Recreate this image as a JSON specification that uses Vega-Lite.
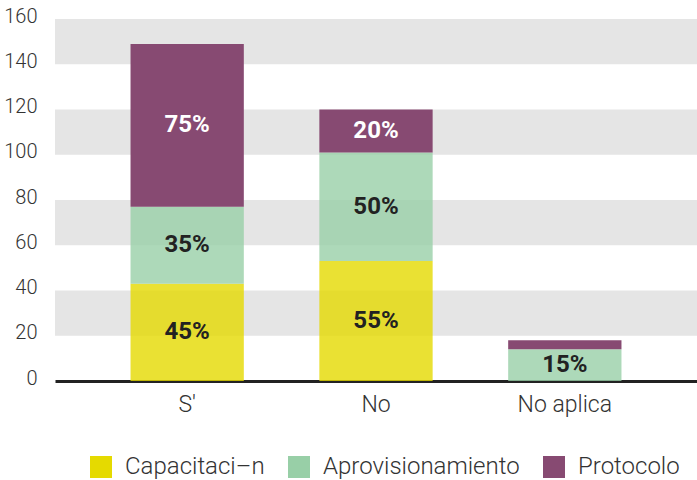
{
  "$schema": "https://vega.github.io/schema/vega-lite/v6.json",
  "width": 642,
  "height": 362,
  "autosize": {"type": "none"},
  "padding": {"left": 55, "top": 19, "right": 0, "bottom": 99},
  "config": {
    "view": {"stroke": null},
    "font": "Roboto, sans-serif"
  },
  "datasets": {
    "bars": [
      {"cat": "S'", "serie": "Capacitaci–n", "ord": 1, "value": 43, "pct": "45%"},
      {"cat": "S'", "serie": "Aprovisionamiento", "ord": 2, "value": 34, "pct": "35%"},
      {"cat": "S'", "serie": "Protocolo", "ord": 3, "value": 72, "pct": "75%"},
      {"cat": "No", "serie": "Capacitaci–n", "ord": 1, "value": 53, "pct": "55%"},
      {"cat": "No", "serie": "Aprovisionamiento", "ord": 2, "value": 48, "pct": "50%"},
      {"cat": "No", "serie": "Protocolo", "ord": 3, "value": 19, "pct": "20%"},
      {"cat": "No aplica", "serie": "Capacitaci–n", "ord": 1, "value": 0, "pct": ""},
      {"cat": "No aplica", "serie": "Aprovisionamiento", "ord": 2, "value": 14, "pct": "15%"},
      {"cat": "No aplica", "serie": "Protocolo", "ord": 3, "value": 4, "pct": ""}
    ],
    "bands": [
      {"lo": 20, "hi": 40},
      {"lo": 60, "hi": 80},
      {"lo": 100, "hi": 120},
      {"lo": 140, "hi": 160}
    ]
  },
  "layer": [
    {
      "data": {"name": "bands"},
      "mark": {"type": "rect", "color": "#e5e5e5"},
      "encoding": {
        "y": {
          "field": "lo", "type": "quantitative",
          "scale": {"domain": [0, 160], "nice": false},
          "axis": {
            "title": null, "domain": false, "ticks": false, "grid": false,
            "values": [0, 20, 40, 60, 80, 100, 120, 140, 160],
            "labelFontSize": 20, "labelFontWeight": 300, "labelColor": "#333",
            "labelPadding": 18, "labelOffset": -3
          }
        },
        "y2": {"field": "hi"}
      }
    },
    {
      "data": {"name": "bars"},
      "transform": [
        {"stack": "value", "groupby": ["cat"], "sort": [{"field": "ord"}], "as": ["y0", "y1"]}
      ],
      "mark": {"type": "bar"},
      "encoding": {
        "x": {
          "field": "cat", "type": "nominal", "sort": ["S'", "No", "No aplica"],
          "scale": {"paddingInner": 0.4, "paddingOuter": 0.4},
          "axis": {
            "title": null, "labelAngle": 0, "ticks": false,
            "domainColor": "#222", "domainWidth": 3,
            "labelFontSize": 23, "labelFontWeight": 300, "labelColor": "#333", "labelPadding": 12
          }
        },
        "y": {"field": "y0", "type": "quantitative"},
        "y2": {"field": "y1"},
        "opacity": {
          "condition": {"test": "datum.serie === 'Protocolo'", "value": 1},
          "value": 0.8
        },
        "color": {
          "field": "serie", "type": "nominal",
          "sort": ["Capacitaci–n", "Aprovisionamiento", "Protocolo"],
          "scale": {
            "domain": ["Capacitaci–n", "Aprovisionamiento", "Protocolo"],
            "range": ["#e5da00", "#98cfa7", "#874a72"]
          },
          "legend": {
            "title": null, "orient": "none", "direction": "horizontal",
            "legendX": 34, "legendY": 436,
            "symbolType": "square", "symbolSize": 484, "symbolStrokeWidth": 0, "symbolOpacity": 1,
            "labelFontSize": 24, "labelFontWeight": 300, "labelColor": "#333",
            "labelOffset": 12, "columnPadding": 22, "labelLimit": 400
          }
        }
      }
    },
    {
      "data": {"name": "bars"},
      "transform": [
        {"stack": "value", "groupby": ["cat"], "sort": [{"field": "ord"}], "as": ["y0", "y1"]},
        {"calculate": "(datum.y0 + datum.y1) / 2", "as": "mid"},
        {"filter": "datum.pct !== ''"}
      ],
      "mark": {"type": "text", "fontSize": 24, "fontWeight": "bold", "baseline": "middle"},
      "encoding": {
        "x": {"field": "cat", "type": "nominal", "sort": ["S'", "No", "No aplica"]},
        "y": {"field": "mid", "type": "quantitative"},
        "text": {"field": "pct"},
        "color": {
          "condition": {"test": "datum.serie === 'Protocolo'", "value": "#ffffff"},
          "value": "#222222"
        }
      }
    }
  ]
}
